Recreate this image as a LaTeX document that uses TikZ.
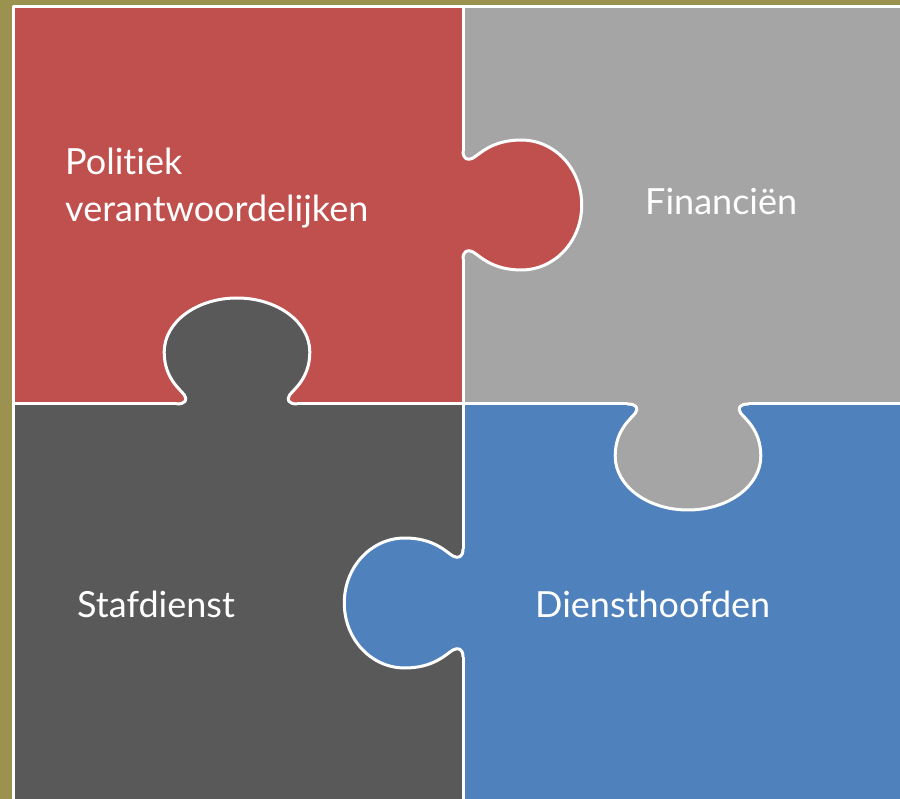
\documentclass[tikz,border=0pt]{standalone}
\usepackage{fontspec}
\setmainfont{Lato}[Ligatures=NoCommon]
\usepackage{tikz}
\usetikzlibrary{positioning}

\definecolor{olivebg}{HTML}{9B9250}
\definecolor{redpc}{HTML}{C0504D}
\definecolor{greypc}{HTML}{A5A5A5}
\definecolor{darkpc}{HTML}{595959}
\definecolor{bluepc}{HTML}{4F81BD}

% outline of one puzzle tab, seam along u=0, tab pointing to +u
\newcommand{\tabpath}{(0,-54) .. controls (0,-46) and (4,-44) .. (9,-47)
  .. controls (15,-51) and (26,-65) .. (52,-65)
  .. controls (82,-65) and (106,-36) .. (106,0)
  .. controls (106,36) and (82,65) .. (52,65)
  .. controls (26,65) and (15,51) .. (9,47)
  .. controls (4,44) and (0,46) .. (0,54)}

\begin{document}
\begin{tikzpicture}[x=1pt, y=-1pt,
    seam/.style={draw=white, line width=3pt, line join=round},
    piecelabel/.style={text=white, inner sep=0pt, anchor=base west, align=left,
      font=\fontsize{36}{47}\selectfont},
]
\clip (0,0) rectangle (900,799);
\fill[olivebg] (0,0) rectangle (900,799);

% Pieces
\fill[redpc] (13,7) rectangle (463,404);
\fill[greypc] (463,7) rectangle (910,404);
\fill[darkpc] (13,404) rectangle (463,810);
\fill[bluepc] (463,404) rectangle (910,810);

% Tabs
\begin{scope}[shift={(463,205)}, xscale=1.12, rotate=0]
  \fill[redpc] \tabpath -- cycle;
  \draw[seam] \tabpath;
  \coordinate (redA) at (0,-54);
  \coordinate (redB) at (0,54);
\end{scope}
\begin{scope}[shift={(463,603)}, xscale=1.12, rotate=180]
  \fill[bluepc] \tabpath -- cycle;
  \draw[seam] \tabpath;
  \coordinate (blueA) at (0,-54);
  \coordinate (blueB) at (0,54);
\end{scope}
\begin{scope}[shift={(237,404)}, xscale=1.12, rotate=90]
  \fill[darkpc] \tabpath -- cycle;
  \draw[seam] \tabpath;
  \coordinate (darkA) at (0,-54);
  \coordinate (darkB) at (0,54);
\end{scope}
\begin{scope}[shift={(688,404)}, xscale=1.12, rotate=-90]
  \fill[greypc] \tabpath -- cycle;
  \draw[seam] \tabpath;
  \coordinate (greyA) at (0,-54);
  \coordinate (greyB) at (0,54);
\end{scope}

% Seams and frame
\draw[seam] (13,810) -- (13,7) -- (910,7);
\draw[seam] (463,7) -- (redA);
\draw[seam] (redB) -- (blueB);
\draw[seam] (blueA) -- (463,810);
\draw[seam] (13,404) -- (darkA);
\draw[seam] (darkB) -- (greyB);
\draw[seam] (greyA) -- (910,404);

% Labels
\node[piecelabel] (politiek) at (65,222) {Politiek\\verantwoordelijken};
\node[piecelabel] (financien) at (645,215) {Financiën};
\node[piecelabel] (stafdienst) at (77,617) {Stafdienst};
\node[piecelabel] (diensthoofden) at (535,617) {Diensthoofden};

\end{tikzpicture}
\end{document}
